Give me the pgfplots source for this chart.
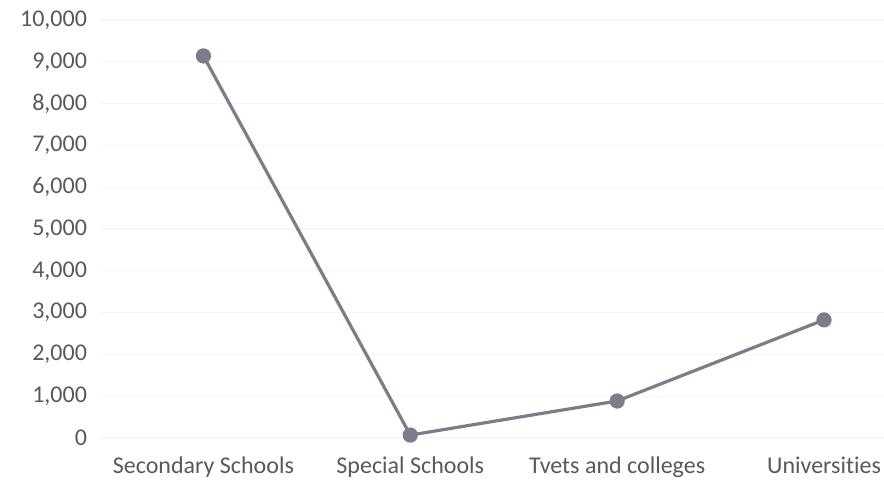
\documentclass[border=0pt]{standalone}
\usepackage{pgfplots}
\pgfplotsset{compat=1.18}
\usepackage{fontspec}
\setmainfont[Ligatures={NoCommon}]{Carlito}

\definecolor{txt}{RGB}{89,89,89}
\definecolor{ln}{RGB}{124,124,138}

\begin{document}
\begin{tikzpicture}
  \begin{axis}[
    name=ax,
    scale only axis,
    width=392pt, height=209pt,
    xmin=-0.5, xmax=3.29,
    ymin=0, ymax=10000,
    xtick={0,1,2,3},
    xticklabels={Secondary Schools,Special Schools,Tvets and colleges,Universities},
    ytick={0,1000,...,10000},
    axis line style={draw=none},
    major tick length=0pt,
    ymajorgrids,
    major grid style={draw=black!3, line width=0.6pt},
    tick label style={font=\fontsize{12}{14}\selectfont, text=txt},
    yticklabel style={xshift=-3pt},
    xticklabel style={yshift=-6pt},
    /pgf/number format/assume math mode=true,
    /pgf/number format/1000 sep={,},
    scaled y ticks=false,
    clip=false,
  ]
    \addplot[ln, line width=1.6pt, mark=*, mark size=3pt,
             mark options={fill=ln, draw=ln}]
      coordinates {(0,9140) (1,70) (2,885) (3,2825)};
  \end{axis}
  \pgfresetboundingbox
  \path (ax.south west) ++(-50pt,-24pt) rectangle ([yshift=10pt]ax.north east);
\end{tikzpicture}
\end{document}
